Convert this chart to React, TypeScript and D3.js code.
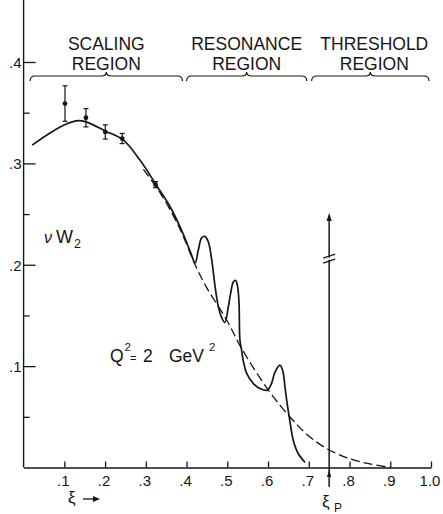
import { useEffect, useRef } from 'react'
import * as d3 from 'd3'

const W = 443
const H = 514

// axis ticks
const xTicks = [0.1, 0.2, 0.3, 0.4, 0.5, 0.6, 0.7, 0.8, 0.9, 1.0]
const xTickLabels = ['.1', '.2', '.3', '.4', '.5', '.6', '.7', '.8', '.9', '1.0']
const yTicks = [0.1, 0.2, 0.3, 0.4]
const yTickLabels = ['.1', '.2', '.3', '.4']
const yMinorTicks = [0.05, 0.15, 0.25, 0.35]

// regions along xi
const regionNames = [
  ['SCALING', 'REGION'],
  ['RESONANCE', 'REGION'],
  ['THRESHOLD', 'REGION'],
]
const regionStart = [0.016, 0.4, 0.707]
const regionEnd = [0.39, 0.695, 0.995]

// measured points with error bars
const pointXi = [0.1016, 0.153, 0.2005, 0.242, 0.324]
const pointVal = [0.359, 0.345, 0.331, 0.3245, 0.279]
const pointErr = [0.0175, 0.009, 0.007, 0.005, 0.003]

// solid curve (data with resonances)
const solidXi = [
  0.021, 0.065, 0.106, 0.13, 0.153, 0.2, 0.245, 0.286, 0.325, 0.36, 0.39, 0.41, 0.421,
  0.429, 0.437, 0.445, 0.453, 0.4617, 0.47, 0.478, 0.486, 0.494, 0.5026, 0.5083, 0.515, 0.5206,
  0.5255, 0.5288, 0.531, 0.535, 0.539, 0.5476, 0.564, 0.58, 0.598, 0.6085, 0.617, 0.629, 0.636,
  0.6416, 0.6458, 0.654, 0.662, 0.674, 0.6907,
]
const solidVal = [
  0.318, 0.33, 0.339, 0.342, 0.341, 0.332, 0.323, 0.303, 0.279, 0.257, 0.232, 0.212, 0.2017,
  0.2148, 0.2266, 0.228, 0.223, 0.205, 0.1785, 0.1587, 0.148, 0.143, 0.1587, 0.172, 0.1833, 0.1845,
  0.178, 0.162, 0.1257, 0.116, 0.1057, 0.0928, 0.0828, 0.078, 0.0762, 0.0828, 0.094, 0.101, 0.0957,
  0.0793, 0.0663, 0.0448, 0.0267, 0.0138, 0.005,
]

// dashed scaling curve
const dashedXi = [0.294, 0.335, 0.368, 0.392, 0.421, 0.45, 0.4985, 0.535, 0.601, 0.654, 0.7, 0.748, 0.801, 0.85, 0.9]
const dashedVal = [0.294, 0.271, 0.248, 0.228, 0.2, 0.177, 0.1455, 0.1175, 0.0762, 0.0498, 0.031, 0.0178, 0.0086, 0.0035, 0]

// xi_P marker
const xiP = 0.75
const xiPTop = 0.251
const xiPBottom = -0.019
const xiPBreak = [0.2085, 0.2035]

const INK = '#161616'
const FONT = '"Liberation Sans", Arial, sans-serif'

export default function App() {
  const ref = useRef<SVGSVGElement | null>(null)

  useEffect(() => {
    if (!ref.current) return
    const svg = d3.select(ref.current)
    svg.selectAll('*').remove()

    const x = d3.scaleLinear().domain([0, 1]).range([23.6, 431])
    const y = d3.scaleLinear().domain([0, 0.4]).range([467.5, 62])

    svg.append('rect').attr('width', W).attr('height', H).attr('fill', '#fff')

    // x axis
    const gx = svg
      .append('g')
      .attr('transform', `translate(0,${y(0)})`)
      .call(
        d3
          .axisBottom(x)
          .tickValues(xTicks)
          .tickSize(-6)
          .tickSizeOuter(0)
          .tickFormat((_d, i) => xTickLabels[i])
      )
    gx.select('.domain').attr('stroke', INK).attr('stroke-width', 1.4)
    gx.selectAll('line').attr('stroke', INK).attr('stroke-width', 1.3)
    gx.selectAll('text')
      .attr('y', 18.5)
      .attr('dy', null)
      .attr('dx', -1.5)
      .style('font-family', FONT)
      .style('font-size', '15px')
      .style('fill', INK)

    // y axis
    svg
      .append('line')
      .attr('x1', x(0))
      .attr('x2', x(0))
      .attr('y1', 0)
      .attr('y2', y(0))
      .attr('stroke', INK)
      .attr('stroke-width', 1.4)

    const gy = svg
      .append('g')
      .attr('transform', `translate(${x(0)},0)`)
      .call(
        d3
          .axisLeft(y)
          .tickValues(yTicks)
          .tickSize(-12)
          .tickPadding(2)
          .tickFormat((_d, i) => yTickLabels[i])
      )
    gy.select('.domain').remove()
    gy.selectAll('line').attr('stroke', INK).attr('stroke-width', 1.3)
    gy.selectAll('text')
      .attr('dy', '0.36em')
      .style('font-family', FONT)
      .style('font-size', '15px')
      .style('fill', INK)

    const gyMinor = svg
      .append('g')
      .attr('transform', `translate(${x(0)},0)`)
      .call(d3.axisLeft(y).tickValues(yMinorTicks).tickSize(-6).tickFormat(() => ''))
    gyMinor.select('.domain').remove()
    gyMinor.selectAll('line').attr('stroke', INK).attr('stroke-width', 1.3)

    // region braces and labels
    const braceY = 76
    regionNames.forEach((names, i) => {
      const x0 = x(regionStart[i])
      const x1 = x(regionEnd[i])
      const xm = (x0 + x1) / 2
      const path = `M${x0},${braceY + 5} Q${x0},${braceY} ${x0 + 5},${braceY} L${xm - 5},${braceY} Q${xm},${braceY} ${xm},${braceY - 4} Q${xm},${braceY} ${xm + 5},${braceY} L${x1 - 5},${braceY} Q${x1},${braceY} ${x1},${braceY + 5}`
      svg
        .append('path')
        .attr('d', path)
        .attr('fill', 'none')
        .attr('stroke', INK)
        .attr('stroke-width', 1.2)
      names.forEach((t, j) => {
        svg
          .append('text')
          .attr('x', xm + (i === 2 ? 4 : 0))
          .attr('y', 50 + j * 20)
          .attr('text-anchor', 'middle')
          .style('font-family', FONT)
          .style('font-size', '17.5px')
          .style('fill', INK)
          .text(t)
      })
    })

    const curve = d3
      .line<number>()
      .x((d) => x(d))
      .curve(d3.curveCatmullRom.alpha(0.5))

    // dashed curve
    svg
      .append('path')
      .attr(
        'd',
        curve.y((_d, i) => y(dashedVal[i]))(dashedXi)
      )
      .attr('fill', 'none')
      .attr('stroke', INK)
      .attr('stroke-width', 1.3)
      .attr('stroke-dasharray', '9 4')

    // solid curve
    svg
      .append('path')
      .attr(
        'd',
        curve.y((_d, i) => y(solidVal[i]))(solidXi)
      )
      .attr('fill', 'none')
      .attr('stroke', INK)
      .attr('stroke-width', 1.7)

    // points with error bars
    const pts = svg.append('g')
    pointXi.forEach((px, i) => {
      const cx = x(px)
      const top = y(pointVal[i] + pointErr[i])
      const bot = y(pointVal[i] - pointErr[i])
      pts.append('line').attr('x1', cx).attr('x2', cx).attr('y1', top).attr('y2', bot)
      pts.append('line').attr('x1', cx - 2.5).attr('x2', cx + 2.5).attr('y1', top).attr('y2', top)
      pts.append('line').attr('x1', cx - 2.5).attr('x2', cx + 2.5).attr('y1', bot).attr('y2', bot)
      pts.append('circle').attr('cx', cx).attr('cy', y(pointVal[i])).attr('r', 2.4).attr('fill', INK)
    })
    pts.selectAll('line').attr('stroke', INK).attr('stroke-width', 1.2)

    // xi_P arrow
    const ax = x(xiP)
    svg
      .append('line')
      .attr('x1', ax)
      .attr('x2', ax)
      .attr('y1', y(xiPTop) + 3)
      .attr('y2', y(xiPBottom))
      .attr('stroke', INK)
      .attr('stroke-width', 1.5)
    const head = (tipY: number, len: number, half: number) =>
      svg
        .append('path')
        .attr('d', `M${ax},${tipY} L${ax - half},${tipY + len} L${ax + half},${tipY + len} Z`)
        .attr('fill', INK)
    head(y(xiPTop), 8, 2.6)
    head(y(0) + 2.5, 7, 2.2)
    xiPBreak.forEach((v) => {
      svg
        .append('line')
        .attr('x1', ax - 6)
        .attr('x2', ax + 6)
        .attr('y1', y(v) + 2)
        .attr('y2', y(v) - 2)
        .attr('stroke', INK)
        .attr('stroke-width', 1.3)
    })
    // white gap between break marks
    svg
      .append('rect')
      .attr('x', ax - 1.5)
      .attr('y', y(xiPBreak[0]) + 1.5)
      .attr('width', 3)
      .attr('height', y(xiPBreak[1]) - y(xiPBreak[0]) - 3)
      .attr('fill', '#fff')

    // labels
    const label = (tx: number, ty: number, size: number, t: string, italic = false) =>
      svg
        .append('text')
        .attr('x', tx)
        .attr('y', ty)
        .style('font-family', FONT)
        .style('font-size', `${size}px`)
        .style('font-style', italic ? 'italic' : 'normal')
        .style('fill', INK)
        .text(t)

    // nu W2
    label(44, 243, 16, 'ν', true)
    label(56, 243, 18, 'W')
    label(74, 248, 12.5, '2')

    // Q^2 = 2 GeV^2
    label(110, 362, 17.5, 'Q')
    label(124.5, 351, 11.5, '2')
    label(130, 362, 11, '=')
    label(143, 362, 17.5, '2')
    label(169, 362, 17.5, 'GeV')
    label(209, 351, 11.5, '2')

    // xi arrow label
    label(68, 503, 17, 'ξ')
    svg
      .append('line')
      .attr('x1', 83)
      .attr('x2', 97)
      .attr('y1', 499)
      .attr('y2', 499)
      .attr('stroke', INK)
      .attr('stroke-width', 1.3)
    svg
      .append('path')
      .attr('d', 'M100,499 L93,496 L93,502 Z')
      .attr('fill', INK)

    // xi_P label
    label(322, 507, 17, 'ξ')
    label(334, 512, 12, 'P')
  }, [])

  return (
    <svg
      ref={ref}
      width={W}
      height={H}
      style={{ position: 'absolute', left: 0, top: 0, background: '#fff' }}
    />
  )
}
